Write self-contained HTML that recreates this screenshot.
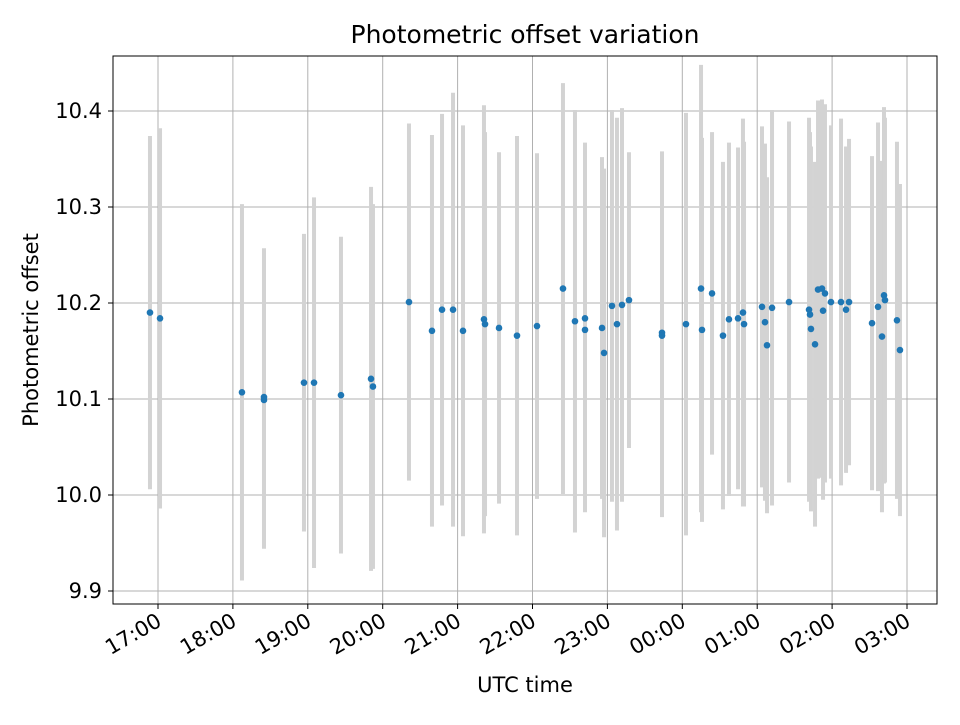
<!DOCTYPE html>
<html><head><meta charset="utf-8"><style>
body{margin:0;background:#fff;}
svg text{font-family:"DejaVu Sans","Liberation Sans",sans-serif;}
</style></head><body>
<svg id="chart" width="960" height="720" xmlns="http://www.w3.org/2000/svg">
<rect width="960" height="720" fill="#fff"/>
<g id="grid"></g>
<g id="bars"></g>
<g id="dots"></g>
<rect x="113" y="56" width="824" height="548" fill="none" stroke="#000" stroke-width="1"/>
<g id="axes"></g>
<text x="525" y="43" style="font-size:25px" text-anchor="middle">Photometric offset variation</text>
<text x="525" y="692" style="font-size:21px" text-anchor="middle">UTC time</text>
<text transform="translate(38,330) rotate(-90)" style="font-size:21px" text-anchor="middle">Photometric offset</text>
</svg>
<script>
// hours since 17:00 UTC
const times=[-0.107,0.027,1.121,1.415,1.415,1.949,2.083,2.443,2.844,2.870,3.351,3.658,3.792,3.939,4.072,4.352,4.366,4.553,4.793,5.060,5.407,5.567,5.701,5.701,5.928,5.955,6.061,6.128,6.195,6.288,6.729,6.729,7.049,7.250,7.263,7.397,7.543,7.623,7.744,7.810,7.824,8.064,8.104,8.131,8.198,8.425,8.692,8.705,8.718,8.772,8.812,8.865,8.879,8.905,8.985,9.119,9.186,9.226,9.533,9.613,9.666,9.693,9.706,9.866,9.906];
const values=[10.190,10.184,10.107,10.099,10.102,10.117,10.117,10.104,10.121,10.113,10.201,10.171,10.193,10.193,10.171,10.183,10.178,10.174,10.166,10.176,10.215,10.181,10.184,10.172,10.174,10.148,10.197,10.178,10.198,10.203,10.169,10.166,10.178,10.215,10.172,10.210,10.166,10.183,10.184,10.190,10.178,10.196,10.180,10.156,10.195,10.201,10.193,10.188,10.173,10.157,10.214,10.215,10.192,10.210,10.201,10.201,10.193,10.201,10.179,10.196,10.165,10.208,10.203,10.182,10.151];
const errors=[0.184,0.198,0.196,0.155,0.155,0.155,0.193,0.165,0.2,0.19,0.186,0.204,0.204,0.226,0.214,0.223,0.2,0.183,0.208,0.18,0.214,0.22,0.183,0.19,0.178,0.192,0.204,0.215,0.205,0.154,0.189,0.189,0.22,0.233,0.2,0.168,0.181,0.184,0.178,0.202,0.19,0.188,0.186,0.175,0.206,0.188,0.2,0.19,0.19,0.19,0.197,0.197,0.197,0.197,0.184,0.191,0.17,0.17,0.174,0.192,0.183,0.196,0.19,0.186,0.173];
const yTicks=[9.9,10.0,10.1,10.2,10.3,10.4];
const xTickLabels=["17:00","18:00","19:00","20:00","21:00","22:00","23:00","00:00","01:00","02:00","03:00"];

const NS="http://www.w3.org/2000/svg";
const xs=h=>158+h*74.9;
const ys=v=>495-(v-10)*960;
function mk(tag,attrs,parent){const e=document.createElementNS(NS,tag);for(const k in attrs)e.setAttribute(k,attrs[k]);parent.appendChild(e);return e;}
const grid=document.getElementById('grid'),axes=document.getElementById('axes'),bars=document.getElementById('bars'),dots=document.getElementById('dots');
yTicks.forEach(t=>{const y=ys(t);
 let g=mk('line',{x1:113,x2:937,y1:y,y2:y,stroke:'#b0b0b0','stroke-width':1},grid);
 
 
 let tk=mk('line',{x1:108,x2:113,y1:y,y2:y,stroke:'#000'},axes);
 
 
 let tx=mk('text',{x:102,y:y+7,style:'font-size:21px','text-anchor':'end'},axes);
 tx.textContent=t.toFixed(1);
 
 
});
xTickLabels.forEach((l,i)=>{const x=xs(i);
 let g=mk('line',{x1:x,x2:x,y1:56,y2:604,stroke:'#b0b0b0','stroke-width':1},grid);
 
 
 let tk=mk('line',{x1:x,x2:x,y1:604,y2:609,stroke:'#000'},axes);
 
 
 let tx=mk('text',{transform:`translate(${x+5},${625}) rotate(-30)`,style:'font-size:21px','text-anchor':'end'},axes);
 tx.textContent=l;
 
 
});
times.forEach((h,i)=>{const x=xs(h);
 let b=mk('line',{x1:x,x2:x,y1:ys(values[i]+errors[i]),y2:ys(values[i]-errors[i]),stroke:'#d3d3d3','stroke-width':4},bars);
 
 
});
times.forEach((h,i)=>{
 let c=mk('circle',{cx:xs(h),cy:ys(values[i]),r:3.3,fill:'#1f77b4'},dots);
 
 
});
</script>
</body></html>
